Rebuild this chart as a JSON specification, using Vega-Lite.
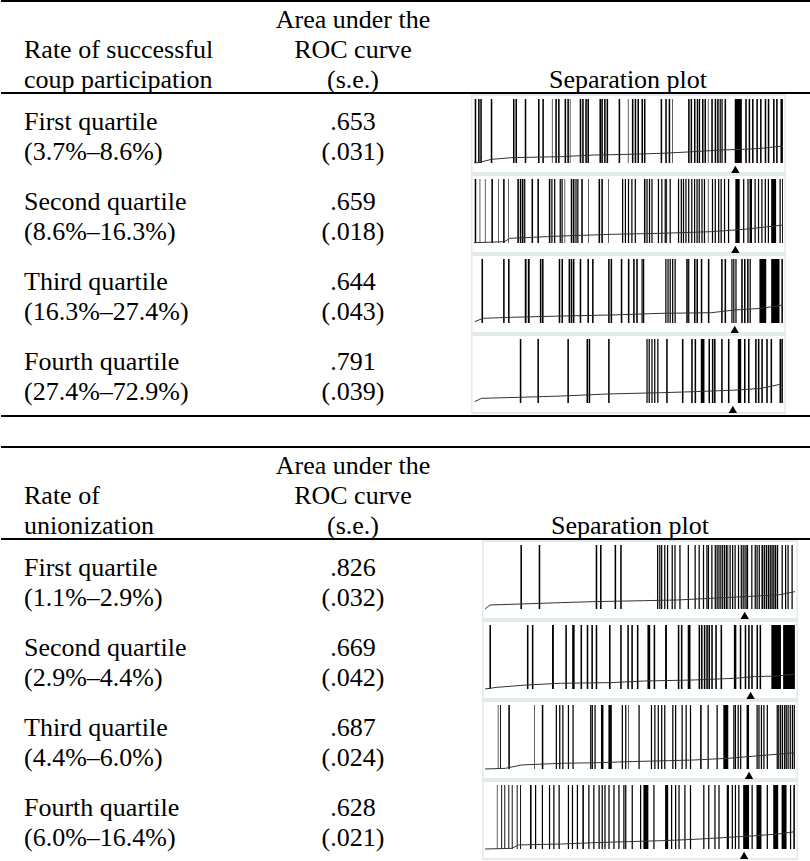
{
"$schema": "https://vega.github.io/schema/vega-lite/v6.json",
"background": "white",
"padding": 0,
"spacing": 0,
"config": {"view": {"stroke": null}, "font": "Liberation Serif", "text": {"font": "Liberation Serif", "fontSize": 26, "color": "black", "baseline": "middle"}},
"datasets": {
"txt": [
{"t":1,"r":0,"c":0,"l":1,"s":"Rate of successful"},
{"t":1,"r":0,"c":0,"l":2,"s":"coup participation"},
{"t":1,"r":0,"c":1,"l":0,"s":"Area under the"},
{"t":1,"r":0,"c":1,"l":1,"s":"ROC curve"},
{"t":1,"r":0,"c":1,"l":2,"s":"(s.e.)"},
{"t":1,"r":0,"c":2,"l":2,"s":"Separation plot"},
{"t":1,"r":1,"c":0,"l":0,"s":"First quartile"},
{"t":1,"r":1,"c":0,"l":1,"s":"(3.7%–8.6%)"},
{"t":1,"r":1,"c":1,"l":0,"s":".653"},
{"t":1,"r":1,"c":1,"l":1,"s":"(.031)"},
{"t":1,"r":2,"c":0,"l":0,"s":"Second quartile"},
{"t":1,"r":2,"c":0,"l":1,"s":"(8.6%–16.3%)"},
{"t":1,"r":2,"c":1,"l":0,"s":".659"},
{"t":1,"r":2,"c":1,"l":1,"s":"(.018)"},
{"t":1,"r":3,"c":0,"l":0,"s":"Third quartile"},
{"t":1,"r":3,"c":0,"l":1,"s":"(16.3%–27.4%)"},
{"t":1,"r":3,"c":1,"l":0,"s":".644"},
{"t":1,"r":3,"c":1,"l":1,"s":"(.043)"},
{"t":1,"r":4,"c":0,"l":0,"s":"Fourth quartile"},
{"t":1,"r":4,"c":0,"l":1,"s":"(27.4%–72.9%)"},
{"t":1,"r":4,"c":1,"l":0,"s":".791"},
{"t":1,"r":4,"c":1,"l":1,"s":"(.039)"},
{"t":2,"r":0,"c":0,"l":1,"s":"Rate of"},
{"t":2,"r":0,"c":0,"l":2,"s":"unionization"},
{"t":2,"r":0,"c":1,"l":0,"s":"Area under the"},
{"t":2,"r":0,"c":1,"l":1,"s":"ROC curve"},
{"t":2,"r":0,"c":1,"l":2,"s":"(s.e.)"},
{"t":2,"r":0,"c":2,"l":2,"s":"Separation plot"},
{"t":2,"r":1,"c":0,"l":0,"s":"First quartile"},
{"t":2,"r":1,"c":0,"l":1,"s":"(1.1%–2.9%)"},
{"t":2,"r":1,"c":1,"l":0,"s":".826"},
{"t":2,"r":1,"c":1,"l":1,"s":"(.032)"},
{"t":2,"r":2,"c":0,"l":0,"s":"Second quartile"},
{"t":2,"r":2,"c":0,"l":1,"s":"(2.9%–4.4%)"},
{"t":2,"r":2,"c":1,"l":0,"s":".669"},
{"t":2,"r":2,"c":1,"l":1,"s":"(.042)"},
{"t":2,"r":3,"c":0,"l":0,"s":"Third quartile"},
{"t":2,"r":3,"c":0,"l":1,"s":"(4.4%–6.0%)"},
{"t":2,"r":3,"c":1,"l":0,"s":".687"},
{"t":2,"r":3,"c":1,"l":1,"s":"(.024)"},
{"t":2,"r":4,"c":0,"l":0,"s":"Fourth quartile"},
{"t":2,"r":4,"c":0,"l":1,"s":"(6.0%–16.4%)"},
{"t":2,"r":4,"c":1,"l":0,"s":".628"},
{"t":2,"r":4,"c":1,"l":1,"s":"(.021)"}
],
"ev": [
{"p":"c1","a":2,"b":7},{"p":"c1","a":13,"b":18},{"p":"c1","a":20,"b":25},{"p":"c1","a":54,"b":59},{"p":"c1","a":126,"b":131},{"p":"c1","a":134,"b":139},{"p":"c1","a":164,"b":169},{"p":"c1","a":207,"b":212},{"p":"c1","a":221,"b":226},{"p":"c1","a":252,"b":254},{"p":"c1","a":263,"b":268},{"p":"c1","a":272,"b":277},{"p":"c1","a":293,"b":298},{"p":"c1","a":302,"b":307},{"p":"c1","a":310,"b":312},{"p":"c1","a":342,"b":347},{"p":"c1","a":350,"b":355},{"p":"c1","a":360,"b":365},{"p":"c1","a":367,"b":372},{"p":"c1","a":406,"b":411},{"p":"c1","a":412,"b":417},{"p":"c1","a":421,"b":426},{"p":"c1","a":429,"b":434},{"p":"c1","a":468,"b":473},{"p":"c1","a":498,"b":500},{"p":"c1","a":511,"b":516},{"p":"c1","a":520,"b":525},{"p":"c1","a":529,"b":534},{"p":"c1","a":542,"b":547},{"p":"c1","a":550,"b":555},{"p":"c1","a":604,"b":609},{"p":"c1","a":619,"b":624},{"p":"c1","a":630,"b":635},{"p":"c1","a":641,"b":643},{"p":"c1","a":693,"b":698},{"p":"c1","a":701,"b":706},{"p":"c1","a":712,"b":717},{"p":"c1","a":721,"b":726},{"p":"c1","a":728,"b":732},{"p":"c1","a":738,"b":743},{"p":"c1","a":746,"b":751},{"p":"c1","a":757,"b":759},{"p":"c1","a":768,"b":773},{"p":"c1","a":779,"b":784},{"p":"c1","a":787,"b":792},{"p":"c1","a":795,"b":799},{"p":"c1","a":801,"b":805},{"p":"c1","a":811,"b":816},{"p":"c1","a":844,"b":867},{"p":"c1","a":878,"b":883},{"p":"c1","a":889,"b":894},{"p":"c1","a":900,"b":905},{"p":"c1","a":914,"b":919},{"p":"c1","a":926,"b":931},{"p":"c1","a":941,"b":946},{"p":"c1","a":951,"b":956},{"p":"c1","a":968,"b":973},{"p":"c1","a":978,"b":983},{"p":"c1","a":992,"b":1000},
{"p":"c2","a":2,"b":7},{"p":"c2","a":18,"b":20},{"p":"c2","a":35,"b":37},{"p":"c2","a":56,"b":61},{"p":"c2","a":78,"b":80},{"p":"c2","a":94,"b":99},{"p":"c2","a":110,"b":112},{"p":"c2","a":140,"b":145},{"p":"c2","a":148,"b":153},{"p":"c2","a":155,"b":160},{"p":"c2","a":162,"b":166},{"p":"c2","a":186,"b":191},{"p":"c2","a":205,"b":210},{"p":"c2","a":242,"b":247},{"p":"c2","a":250,"b":254},{"p":"c2","a":259,"b":263},{"p":"c2","a":277,"b":281},{"p":"c2","a":283,"b":287},{"p":"c2","a":293,"b":295},{"p":"c2","a":313,"b":318},{"p":"c2","a":320,"b":325},{"p":"c2","a":328,"b":332},{"p":"c2","a":334,"b":338},{"p":"c2","a":347,"b":352},{"p":"c2","a":369,"b":371},{"p":"c2","a":403,"b":408},{"p":"c2","a":412,"b":417},{"p":"c2","a":434,"b":436},{"p":"c2","a":479,"b":483},{"p":"c2","a":488,"b":492},{"p":"c2","a":498,"b":502},{"p":"c2","a":509,"b":513},{"p":"c2","a":520,"b":524},{"p":"c2","a":550,"b":555},{"p":"c2","a":558,"b":562},{"p":"c2","a":566,"b":570},{"p":"c2","a":574,"b":578},{"p":"c2","a":595,"b":599},{"p":"c2","a":606,"b":610},{"p":"c2","a":617,"b":621},{"p":"c2","a":622,"b":625},{"p":"c2","a":633,"b":637},{"p":"c2","a":660,"b":664},{"p":"c2","a":669,"b":673},{"p":"c2","a":676,"b":680},{"p":"c2","a":684,"b":688},{"p":"c2","a":693,"b":697},{"p":"c2","a":703,"b":707},{"p":"c2","a":712,"b":716},{"p":"c2","a":720,"b":724},{"p":"c2","a":727,"b":731},{"p":"c2","a":736,"b":740},{"p":"c2","a":744,"b":748},{"p":"c2","a":757,"b":759},{"p":"c2","a":770,"b":774},{"p":"c2","a":779,"b":783},{"p":"c2","a":790,"b":794},{"p":"c2","a":798,"b":802},{"p":"c2","a":809,"b":813},{"p":"c2","a":822,"b":826},{"p":"c2","a":846,"b":860},{"p":"c2","a":871,"b":875},{"p":"c2","a":885,"b":889},{"p":"c2","a":892,"b":900},{"p":"c2","a":908,"b":912},{"p":"c2","a":919,"b":923},{"p":"c2","a":930,"b":934},{"p":"c2","a":941,"b":945},{"p":"c2","a":951,"b":955},{"p":"c2","a":962,"b":978},{"p":"c2","a":989,"b":993},{"p":"c2","a":997,"b":1000},
{"p":"c3","a":24,"b":29},{"p":"c3","a":94,"b":99},{"p":"c3","a":110,"b":115},{"p":"c3","a":164,"b":170},{"p":"c3","a":174,"b":180},{"p":"c3","a":213,"b":218},{"p":"c3","a":220,"b":225},{"p":"c3","a":274,"b":279},{"p":"c3","a":283,"b":288},{"p":"c3","a":306,"b":311},{"p":"c3","a":313,"b":318},{"p":"c3","a":320,"b":325},{"p":"c3","a":342,"b":347},{"p":"c3","a":367,"b":372},{"p":"c3","a":382,"b":387},{"p":"c3","a":434,"b":439},{"p":"c3","a":442,"b":447},{"p":"c3","a":475,"b":480},{"p":"c3","a":498,"b":503},{"p":"c3","a":515,"b":520},{"p":"c3","a":525,"b":530},{"p":"c3","a":542,"b":546},{"p":"c3","a":547,"b":551},{"p":"c3","a":619,"b":623},{"p":"c3","a":626,"b":630},{"p":"c3","a":633,"b":637},{"p":"c3","a":641,"b":645},{"p":"c3","a":649,"b":653},{"p":"c3","a":687,"b":692},{"p":"c3","a":693,"b":697},{"p":"c3","a":712,"b":717},{"p":"c3","a":720,"b":725},{"p":"c3","a":734,"b":739},{"p":"c3","a":757,"b":762},{"p":"c3","a":800,"b":805},{"p":"c3","a":811,"b":816},{"p":"c3","a":833,"b":837},{"p":"c3","a":839,"b":843},{"p":"c3","a":846,"b":850},{"p":"c3","a":865,"b":870},{"p":"c3","a":874,"b":879},{"p":"c3","a":884,"b":889},{"p":"c3","a":892,"b":896},{"p":"c3","a":924,"b":946},{"p":"c3","a":962,"b":989},{"p":"c3","a":995,"b":1000},
{"p":"c4","a":148,"b":153},{"p":"c4","a":205,"b":210},{"p":"c4","a":302,"b":307},{"p":"c4","a":364,"b":369},{"p":"c4","a":371,"b":376},{"p":"c4","a":434,"b":439},{"p":"c4","a":558,"b":562},{"p":"c4","a":565,"b":569},{"p":"c4","a":574,"b":578},{"p":"c4","a":583,"b":587},{"p":"c4","a":593,"b":597},{"p":"c4","a":622,"b":627},{"p":"c4","a":673,"b":678},{"p":"c4","a":703,"b":708},{"p":"c4","a":714,"b":719},{"p":"c4","a":734,"b":746},{"p":"c4","a":759,"b":764},{"p":"c4","a":770,"b":775},{"p":"c4","a":777,"b":782},{"p":"c4","a":800,"b":805},{"p":"c4","a":822,"b":827},{"p":"c4","a":854,"b":865},{"p":"c4","a":874,"b":879},{"p":"c4","a":887,"b":892},{"p":"c4","a":910,"b":915},{"p":"c4","a":919,"b":924},{"p":"c4","a":930,"b":935},{"p":"c4","a":946,"b":951},{"p":"c4","a":960,"b":965},{"p":"c4","a":989,"b":994},{"p":"c4","a":995,"b":1000},
{"p":"u1","a":114,"b":119},{"p":"u1","a":173,"b":178},{"p":"u1","a":357,"b":362},{"p":"u1","a":371,"b":376},{"p":"u1","a":418,"b":423},{"p":"u1","a":436,"b":441},{"p":"u1","a":555,"b":559},{"p":"u1","a":562,"b":566},{"p":"u1","a":568,"b":572},{"p":"u1","a":578,"b":582},{"p":"u1","a":587,"b":591},{"p":"u1","a":602,"b":606},{"p":"u1","a":611,"b":615},{"p":"u1","a":627,"b":631},{"p":"u1","a":654,"b":658},{"p":"u1","a":676,"b":680},{"p":"u1","a":689,"b":693},{"p":"u1","a":703,"b":707},{"p":"u1","a":714,"b":718},{"p":"u1","a":719,"b":723},{"p":"u1","a":730,"b":734},{"p":"u1","a":741,"b":745},{"p":"u1","a":747,"b":751},{"p":"u1","a":753,"b":757},{"p":"u1","a":759,"b":763},{"p":"u1","a":765,"b":769},{"p":"u1","a":771,"b":775},{"p":"u1","a":777,"b":781},{"p":"u1","a":782,"b":785},{"p":"u1","a":789,"b":793},{"p":"u1","a":797,"b":801},{"p":"u1","a":805,"b":809},{"p":"u1","a":816,"b":820},{"p":"u1","a":825,"b":829},{"p":"u1","a":831,"b":835},{"p":"u1","a":837,"b":841},{"p":"u1","a":843,"b":849},{"p":"u1","a":859,"b":863},{"p":"u1","a":870,"b":874},{"p":"u1","a":876,"b":880},{"p":"u1","a":883,"b":887},{"p":"u1","a":892,"b":897},{"p":"u1","a":899,"b":904},{"p":"u1","a":906,"b":911},{"p":"u1","a":913,"b":918},{"p":"u1","a":920,"b":925},{"p":"u1","a":927,"b":932},{"p":"u1","a":934,"b":939},{"p":"u1","a":941,"b":946},{"p":"u1","a":957,"b":961},{"p":"u1","a":968,"b":972},{"p":"u1","a":976,"b":980},{"p":"u1","a":989,"b":993},
{"p":"u2","a":14,"b":19},{"p":"u2","a":135,"b":140},{"p":"u2","a":151,"b":156},{"p":"u2","a":216,"b":222},{"p":"u2","a":259,"b":264},{"p":"u2","a":281,"b":289},{"p":"u2","a":308,"b":313},{"p":"u2","a":328,"b":333},{"p":"u2","a":343,"b":348},{"p":"u2","a":357,"b":362},{"p":"u2","a":400,"b":405},{"p":"u2","a":436,"b":441},{"p":"u2","a":459,"b":464},{"p":"u2","a":472,"b":477},{"p":"u2","a":490,"b":495},{"p":"u2","a":524,"b":533},{"p":"u2","a":544,"b":549},{"p":"u2","a":581,"b":587},{"p":"u2","a":622,"b":627},{"p":"u2","a":632,"b":637},{"p":"u2","a":654,"b":663},{"p":"u2","a":689,"b":694},{"p":"u2","a":697,"b":702},{"p":"u2","a":706,"b":711},{"p":"u2","a":714,"b":719},{"p":"u2","a":721,"b":726},{"p":"u2","a":730,"b":735},{"p":"u2","a":743,"b":748},{"p":"u2","a":760,"b":765},{"p":"u2","a":803,"b":811},{"p":"u2","a":822,"b":827},{"p":"u2","a":838,"b":843},{"p":"u2","a":849,"b":854},{"p":"u2","a":859,"b":864},{"p":"u2","a":876,"b":881},{"p":"u2","a":886,"b":891},{"p":"u2","a":924,"b":955},{"p":"u2","a":962,"b":1000},
{"p":"u3","a":41,"b":43},{"p":"u3","a":48,"b":51},{"p":"u3","a":75,"b":80},{"p":"u3","a":159,"b":161},{"p":"u3","a":183,"b":188},{"p":"u3","a":228,"b":232},{"p":"u3","a":239,"b":243},{"p":"u3","a":249,"b":253},{"p":"u3","a":267,"b":271},{"p":"u3","a":282,"b":286},{"p":"u3","a":339,"b":343},{"p":"u3","a":344,"b":348},{"p":"u3","a":353,"b":357},{"p":"u3","a":374,"b":382},{"p":"u3","a":398,"b":409},{"p":"u3","a":441,"b":445},{"p":"u3","a":452,"b":456},{"p":"u3","a":462,"b":464},{"p":"u3","a":495,"b":499},{"p":"u3","a":535,"b":539},{"p":"u3","a":546,"b":550},{"p":"u3","a":557,"b":561},{"p":"u3","a":568,"b":572},{"p":"u3","a":578,"b":582},{"p":"u3","a":604,"b":608},{"p":"u3","a":613,"b":617},{"p":"u3","a":634,"b":638},{"p":"u3","a":647,"b":651},{"p":"u3","a":661,"b":665},{"p":"u3","a":694,"b":699},{"p":"u3","a":718,"b":722},{"p":"u3","a":747,"b":751},{"p":"u3","a":769,"b":785},{"p":"u3","a":801,"b":805},{"p":"u3","a":806,"b":810},{"p":"u3","a":815,"b":819},{"p":"u3","a":823,"b":827},{"p":"u3","a":844,"b":852},{"p":"u3","a":876,"b":880},{"p":"u3","a":882,"b":886},{"p":"u3","a":890,"b":894},{"p":"u3","a":898,"b":902},{"p":"u3","a":909,"b":913},{"p":"u3","a":941,"b":945},{"p":"u3","a":946,"b":950},{"p":"u3","a":952,"b":956},{"p":"u3","a":958,"b":962},{"p":"u3","a":965,"b":969},{"p":"u3","a":970,"b":974},{"p":"u3","a":976,"b":980},{"p":"u3","a":983,"b":987},{"p":"u3","a":990,"b":994},{"p":"u3","a":996,"b":1000},
{"p":"u4","a":38,"b":40},{"p":"u4","a":52,"b":55},{"p":"u4","a":62,"b":65},{"p":"u4","a":75,"b":78},{"p":"u4","a":86,"b":89},{"p":"u4","a":102,"b":105},{"p":"u4","a":113,"b":116},{"p":"u4","a":145,"b":150},{"p":"u4","a":161,"b":165},{"p":"u4","a":183,"b":187},{"p":"u4","a":206,"b":210},{"p":"u4","a":220,"b":224},{"p":"u4","a":237,"b":241},{"p":"u4","a":267,"b":271},{"p":"u4","a":280,"b":284},{"p":"u4","a":296,"b":300},{"p":"u4","a":314,"b":319},{"p":"u4","a":333,"b":337},{"p":"u4","a":349,"b":353},{"p":"u4","a":366,"b":370},{"p":"u4","a":376,"b":380},{"p":"u4","a":385,"b":389},{"p":"u4","a":398,"b":402},{"p":"u4","a":414,"b":418},{"p":"u4","a":430,"b":434},{"p":"u4","a":446,"b":450},{"p":"u4","a":452,"b":456},{"p":"u4","a":473,"b":477},{"p":"u4","a":500,"b":504},{"p":"u4","a":511,"b":527},{"p":"u4","a":543,"b":547},{"p":"u4","a":581,"b":591},{"p":"u4","a":600,"b":604},{"p":"u4","a":613,"b":617},{"p":"u4","a":624,"b":628},{"p":"u4","a":643,"b":647},{"p":"u4","a":661,"b":665},{"p":"u4","a":704,"b":708},{"p":"u4","a":720,"b":724},{"p":"u4","a":740,"b":744},{"p":"u4","a":753,"b":757},{"p":"u4","a":780,"b":787},{"p":"u4","a":796,"b":800},{"p":"u4","a":806,"b":810},{"p":"u4","a":817,"b":821},{"p":"u4","a":833,"b":852},{"p":"u4","a":860,"b":864},{"p":"u4","a":876,"b":892},{"p":"u4","a":909,"b":913},{"p":"u4","a":930,"b":946},{"p":"u4","a":957,"b":973},{"p":"u4","a":984,"b":988},{"p":"u4","a":995,"b":1000}
],
"ln": [
{"p":"c1","x":0,"y":0.005},{"p":"c1","x":13,"y":0.005},{"p":"c1","x":56,"y":0.057},{"p":"c1","x":121,"y":0.083},{"p":"c1","x":283,"y":0.099},{"p":"c1","x":391,"y":0.125},{"p":"c1","x":498,"y":0.135},{"p":"c1","x":606,"y":0.151},{"p":"c1","x":714,"y":0.177},{"p":"c1","x":800,"y":0.203},{"p":"c1","x":876,"y":0.214},{"p":"c1","x":930,"y":0.229},{"p":"c1","x":1000,"y":0.266},
{"p":"c2","x":0,"y":0.005},{"p":"c2","x":99,"y":0.02},{"p":"c2","x":115,"y":0.073},{"p":"c2","x":283,"y":0.109},{"p":"c2","x":444,"y":0.135},{"p":"c2","x":606,"y":0.151},{"p":"c2","x":768,"y":0.177},{"p":"c2","x":876,"y":0.214},{"p":"c2","x":1000,"y":0.281},
{"p":"c3","x":2,"y":0.021},{"p":"c3","x":29,"y":0.073},{"p":"c3","x":121,"y":0.089},{"p":"c3","x":283,"y":0.109},{"p":"c3","x":444,"y":0.125},{"p":"c3","x":606,"y":0.151},{"p":"c3","x":768,"y":0.161},{"p":"c3","x":844,"y":0.203},{"p":"c3","x":930,"y":0.229},{"p":"c3","x":1000,"y":0.281},
{"p":"c4","x":2,"y":0.021},{"p":"c4","x":24,"y":0.073},{"p":"c4","x":148,"y":0.089},{"p":"c4","x":283,"y":0.109},{"p":"c4","x":434,"y":0.141},{"p":"c4","x":606,"y":0.161},{"p":"c4","x":714,"y":0.177},{"p":"c4","x":854,"y":0.203},{"p":"c4","x":930,"y":0.229},{"p":"c4","x":997,"y":0.297},
{"p":"u1","x":0,"y":0.0},{"p":"u1","x":16,"y":0.0625},{"p":"u1","x":114,"y":0.078},{"p":"u1","x":243,"y":0.099},{"p":"u1","x":351,"y":0.115},{"p":"u1","x":514,"y":0.13},{"p":"u1","x":622,"y":0.141},{"p":"u1","x":730,"y":0.167},{"p":"u1","x":838,"y":0.193},{"p":"u1","x":946,"y":0.219},{"p":"u1","x":1000,"y":0.271},
{"p":"u2","x":0,"y":0.0},{"p":"u2","x":38,"y":0.026},{"p":"u2","x":135,"y":0.0625},{"p":"u2","x":243,"y":0.089},{"p":"u2","x":405,"y":0.099},{"p":"u2","x":514,"y":0.125},{"p":"u2","x":676,"y":0.141},{"p":"u2","x":805,"y":0.167},{"p":"u2","x":870,"y":0.193},{"p":"u2","x":946,"y":0.203},{"p":"u2","x":1000,"y":0.234},
{"p":"u3","x":0,"y":0.0},{"p":"u3","x":65,"y":0.01},{"p":"u3","x":118,"y":0.063},{"p":"u3","x":247,"y":0.089},{"p":"u3","x":376,"y":0.099},{"p":"u3","x":462,"y":0.115},{"p":"u3","x":591,"y":0.13},{"p":"u3","x":677,"y":0.141},{"p":"u3","x":785,"y":0.167},{"p":"u3","x":849,"y":0.193},{"p":"u3","x":914,"y":0.219},{"p":"u3","x":1000,"y":0.255},
{"p":"u4","x":0,"y":0.0},{"p":"u4","x":86,"y":0.01},{"p":"u4","x":108,"y":0.063},{"p":"u4","x":247,"y":0.078},{"p":"u4","x":355,"y":0.099},{"p":"u4","x":462,"y":0.115},{"p":"u4","x":570,"y":0.13},{"p":"u4","x":677,"y":0.151},{"p":"u4","x":785,"y":0.182},{"p":"u4","x":860,"y":0.203},{"p":"u4","x":946,"y":0.234},{"p":"u4","x":1000,"y":0.271}
],
"ex": [
{"p":"c1","e":846},{"p":"c2","e":846},{"p":"c3","e":844},{"p":"c4","e":838},
{"p":"u1","e":838},{"p":"u2","e":857},{"p":"u3","e":852},{"p":"u4","e":836}
]
},
"vconcat": [
{"width": 810, "height": 94, "layer": [
 {"data": {"name": "txt"}, "transform": [{"filter": "datum.t==1 && datum.r==0 && datum.c==0"}], "mark": {"type": "text", "align": "left"}, "encoding": {"x": {"field": "c", "type": "quantitative", "scale": {"domain": [0,1,2], "range": [23,352,627], "nice": false}, "axis": null}, "y": {"field": "l", "type": "quantitative", "scale": {"domain": [-0.6667, 2.4667], "reverse": true, "nice": false}, "axis": null}, "text": {"field": "s"}}},
 {"data": {"name": "txt"}, "transform": [{"filter": "datum.t==1 && datum.r==0 && datum.c>0"}], "mark": {"type": "text", "align": "center"}, "encoding": {"x": {"field": "c", "type": "quantitative"}, "y": {"field": "l", "type": "quantitative"}, "text": {"field": "s"}}},
 {"data": {"values": [{}]}, "mark": {"type": "rule", "color": "black", "strokeWidth": 2}, "encoding": {"y": {"datum": -0.6333, "type": "quantitative"}}},
 {"data": {"values": [{}]}, "mark": {"type": "rule", "color": "black", "strokeWidth": 2}, "encoding": {"y": {"datum": 2.4333, "type": "quantitative"}}}
]},
{"hconcat": [
 {"width": 470, "height": 80, "data": {"name": "txt"}, "transform": [{"filter": "datum.t==1 && datum.r==1"}], "encoding": {"x": {"field": "c", "type": "quantitative", "scale": {"domain": [0,1], "range": [23,352], "nice": false}, "axis": null}, "y": {"field": "l", "type": "quantitative", "scale": {"domain": [-0.9333, 1.7333], "reverse": true, "nice": false}, "axis": null}, "text": {"field": "s"}}, "layer": [{"transform": [{"filter": "datum.c==0"}], "mark": {"type": "text", "align": "left"}}, {"transform": [{"filter": "datum.c==1"}], "mark": {"type": "text", "align": "center"}}]},
 {"width": 315, "height": 80, "layer": [
  {"data": {"values": [{}]}, "mark": {"type": "rect", "fill": "#e2eaed"}, "encoding": {"x": {"datum": -10, "type": "quantitative", "scale": {"domain": [-10, 1010], "nice": false}, "axis": null}, "x2": {"datum": 1010}, "y": {"datum": -0.172, "type": "quantitative", "scale": {"domain": [-0.172, 1.078], "nice": false}, "axis": null}, "y2": {"datum": 1.078}}},
  {"data": {"values": [{}]}, "mark": {"type": "rect", "fill": "white"}, "encoding": {"x": {"datum": -5, "type": "quantitative"}, "x2": {"datum": 1005}, "y": {"datum": -0.1406, "type": "quantitative"}, "y2": {"datum": 1.047}}},
  {"data": {"name": "ev"}, "transform": [{"filter": "datum.p=='c1'"}], "mark": {"type": "rect", "color": "black"}, "encoding": {"x": {"field": "a", "type": "quantitative"}, "x2": {"field": "b"}, "y": {"datum": 0, "type": "quantitative"}, "y2": {"datum": 1}}},
  {"data": {"name": "ln"}, "transform": [{"filter": "datum.p=='c1'"}], "mark": {"type": "line", "color": "#333333", "strokeWidth": 1}, "encoding": {"x": {"field": "x", "type": "quantitative"}, "y": {"field": "y", "type": "quantitative"}}},
  {"data": {"name": "ex"}, "transform": [{"filter": "datum.p=='c1'"}], "mark": {"type": "point", "shape": "triangle-up", "filled": true, "color": "black", "size": 70, "opacity": 1}, "encoding": {"x": {"field": "e", "type": "quantitative"}, "y": {"datum": -0.1, "type": "quantitative"}}}
 ]}
], "spacing": 0},
{"hconcat": [
 {"width": 470, "height": 80, "data": {"name": "txt"}, "transform": [{"filter": "datum.t==1 && datum.r==2"}], "encoding": {"x": {"field": "c", "type": "quantitative", "scale": {"domain": [0,1], "range": [23,352], "nice": false}, "axis": null}, "y": {"field": "l", "type": "quantitative", "scale": {"domain": [-0.9333, 1.7333], "reverse": true, "nice": false}, "axis": null}, "text": {"field": "s"}}, "layer": [{"transform": [{"filter": "datum.c==0"}], "mark": {"type": "text", "align": "left"}}, {"transform": [{"filter": "datum.c==1"}], "mark": {"type": "text", "align": "center"}}]},
 {"width": 315, "height": 80, "layer": [
  {"data": {"values": [{}]}, "mark": {"type": "rect", "fill": "#e2eaed"}, "encoding": {"x": {"datum": -10, "type": "quantitative", "scale": {"domain": [-10, 1010], "nice": false}, "axis": null}, "x2": {"datum": 1010}, "y": {"datum": -0.172, "type": "quantitative", "scale": {"domain": [-0.172, 1.078], "nice": false}, "axis": null}, "y2": {"datum": 1.078}}},
  {"data": {"values": [{}]}, "mark": {"type": "rect", "fill": "white"}, "encoding": {"x": {"datum": -5, "type": "quantitative"}, "x2": {"datum": 1005}, "y": {"datum": -0.1406, "type": "quantitative"}, "y2": {"datum": 1.047}}},
  {"data": {"name": "ev"}, "transform": [{"filter": "datum.p=='c2'"}], "mark": {"type": "rect", "color": "black"}, "encoding": {"x": {"field": "a", "type": "quantitative"}, "x2": {"field": "b"}, "y": {"datum": 0, "type": "quantitative"}, "y2": {"datum": 1}}},
  {"data": {"name": "ln"}, "transform": [{"filter": "datum.p=='c2'"}], "mark": {"type": "line", "color": "#333333", "strokeWidth": 1}, "encoding": {"x": {"field": "x", "type": "quantitative"}, "y": {"field": "y", "type": "quantitative"}}},
  {"data": {"name": "ex"}, "transform": [{"filter": "datum.p=='c2'"}], "mark": {"type": "point", "shape": "triangle-up", "filled": true, "color": "black", "size": 70, "opacity": 1}, "encoding": {"x": {"field": "e", "type": "quantitative"}, "y": {"datum": -0.1, "type": "quantitative"}}}
 ]}
], "spacing": 0},
{"hconcat": [
 {"width": 470, "height": 80, "data": {"name": "txt"}, "transform": [{"filter": "datum.t==1 && datum.r==3"}], "encoding": {"x": {"field": "c", "type": "quantitative", "scale": {"domain": [0,1], "range": [23,352], "nice": false}, "axis": null}, "y": {"field": "l", "type": "quantitative", "scale": {"domain": [-0.9333, 1.7333], "reverse": true, "nice": false}, "axis": null}, "text": {"field": "s"}}, "layer": [{"transform": [{"filter": "datum.c==0"}], "mark": {"type": "text", "align": "left"}}, {"transform": [{"filter": "datum.c==1"}], "mark": {"type": "text", "align": "center"}}]},
 {"width": 315, "height": 80, "layer": [
  {"data": {"values": [{}]}, "mark": {"type": "rect", "fill": "#e2eaed"}, "encoding": {"x": {"datum": -10, "type": "quantitative", "scale": {"domain": [-10, 1010], "nice": false}, "axis": null}, "x2": {"datum": 1010}, "y": {"datum": -0.172, "type": "quantitative", "scale": {"domain": [-0.172, 1.078], "nice": false}, "axis": null}, "y2": {"datum": 1.078}}},
  {"data": {"values": [{}]}, "mark": {"type": "rect", "fill": "white"}, "encoding": {"x": {"datum": -5, "type": "quantitative"}, "x2": {"datum": 1005}, "y": {"datum": -0.1406, "type": "quantitative"}, "y2": {"datum": 1.047}}},
  {"data": {"name": "ev"}, "transform": [{"filter": "datum.p=='c3'"}], "mark": {"type": "rect", "color": "black"}, "encoding": {"x": {"field": "a", "type": "quantitative"}, "x2": {"field": "b"}, "y": {"datum": 0, "type": "quantitative"}, "y2": {"datum": 1}}},
  {"data": {"name": "ln"}, "transform": [{"filter": "datum.p=='c3'"}], "mark": {"type": "line", "color": "#333333", "strokeWidth": 1}, "encoding": {"x": {"field": "x", "type": "quantitative"}, "y": {"field": "y", "type": "quantitative"}}},
  {"data": {"name": "ex"}, "transform": [{"filter": "datum.p=='c3'"}], "mark": {"type": "point", "shape": "triangle-up", "filled": true, "color": "black", "size": 70, "opacity": 1}, "encoding": {"x": {"field": "e", "type": "quantitative"}, "y": {"datum": -0.1, "type": "quantitative"}}}
 ]}
], "spacing": 0},
{"hconcat": [
 {"width": 470, "height": 80, "data": {"name": "txt"}, "transform": [{"filter": "datum.t==1 && datum.r==4"}], "encoding": {"x": {"field": "c", "type": "quantitative", "scale": {"domain": [0,1], "range": [23,352], "nice": false}, "axis": null}, "y": {"field": "l", "type": "quantitative", "scale": {"domain": [-0.9333, 1.7333], "reverse": true, "nice": false}, "axis": null}, "text": {"field": "s"}}, "layer": [{"transform": [{"filter": "datum.c==0"}], "mark": {"type": "text", "align": "left"}}, {"transform": [{"filter": "datum.c==1"}], "mark": {"type": "text", "align": "center"}}]},
 {"width": 315, "height": 80, "layer": [
  {"data": {"values": [{}]}, "mark": {"type": "rect", "fill": "#e2eaed"}, "encoding": {"x": {"datum": -10, "type": "quantitative", "scale": {"domain": [-10, 1010], "nice": false}, "axis": null}, "x2": {"datum": 1010}, "y": {"datum": -0.172, "type": "quantitative", "scale": {"domain": [-0.172, 1.078], "nice": false}, "axis": null}, "y2": {"datum": 1.078}}},
  {"data": {"values": [{}]}, "mark": {"type": "rect", "fill": "white"}, "encoding": {"x": {"datum": -5, "type": "quantitative"}, "x2": {"datum": 1005}, "y": {"datum": -0.1406, "type": "quantitative"}, "y2": {"datum": 1.047}}},
  {"data": {"name": "ev"}, "transform": [{"filter": "datum.p=='c4'"}], "mark": {"type": "rect", "color": "black"}, "encoding": {"x": {"field": "a", "type": "quantitative"}, "x2": {"field": "b"}, "y": {"datum": 0, "type": "quantitative"}, "y2": {"datum": 1}}},
  {"data": {"name": "ln"}, "transform": [{"filter": "datum.p=='c4'"}], "mark": {"type": "line", "color": "#333333", "strokeWidth": 1}, "encoding": {"x": {"field": "x", "type": "quantitative"}, "y": {"field": "y", "type": "quantitative"}}},
  {"data": {"name": "ex"}, "transform": [{"filter": "datum.p=='c4'"}], "mark": {"type": "point", "shape": "triangle-up", "filled": true, "color": "black", "size": 70, "opacity": 1}, "encoding": {"x": {"field": "e", "type": "quantitative"}, "y": {"datum": -0.1, "type": "quantitative"}}}
 ]}
], "spacing": 0},
{"width": 810, "height": 126, "layer": [
 {"data": {"name": "txt"}, "transform": [{"filter": "datum.t==2 && datum.r==0 && datum.c==0"}], "mark": {"type": "text", "align": "left"}, "encoding": {"x": {"field": "c", "type": "quantitative", "scale": {"domain": [0,1,2], "range": [23,352,629], "nice": false}, "axis": null}, "y": {"field": "l", "type": "quantitative", "scale": {"domain": [-1.7333, 2.4667], "reverse": true, "nice": false}, "axis": null}, "text": {"field": "s"}}},
 {"data": {"name": "txt"}, "transform": [{"filter": "datum.t==2 && datum.r==0 && datum.c>0"}], "mark": {"type": "text", "align": "center"}, "encoding": {"x": {"field": "c", "type": "quantitative"}, "y": {"field": "l", "type": "quantitative"}, "text": {"field": "s"}}},
 {"data": {"values": [{}]}, "mark": {"type": "rule", "color": "black", "strokeWidth": 2}, "encoding": {"y": {"datum": -1.6667, "type": "quantitative"}}},
 {"data": {"values": [{}]}, "mark": {"type": "rule", "color": "black", "strokeWidth": 2}, "encoding": {"y": {"datum": -0.6333, "type": "quantitative"}}},
 {"data": {"values": [{}]}, "mark": {"type": "rule", "color": "black", "strokeWidth": 2}, "encoding": {"y": {"datum": 2.4333, "type": "quantitative"}}}
]},
{"hconcat": [
 {"width": 481, "height": 80, "data": {"name": "txt"}, "transform": [{"filter": "datum.t==2 && datum.r==1"}], "encoding": {"x": {"field": "c", "type": "quantitative", "scale": {"domain": [0,1], "range": [23,352], "nice": false}, "axis": null}, "y": {"field": "l", "type": "quantitative", "scale": {"domain": [-0.9333, 1.7333], "reverse": true, "nice": false}, "axis": null}, "text": {"field": "s"}}, "layer": [{"transform": [{"filter": "datum.c==0"}], "mark": {"type": "text", "align": "left"}}, {"transform": [{"filter": "datum.c==1"}], "mark": {"type": "text", "align": "center"}}]},
 {"width": 316, "height": 80, "layer": [
  {"data": {"values": [{}]}, "mark": {"type": "rect", "fill": "#e2eaed"}, "encoding": {"x": {"datum": -10, "type": "quantitative", "scale": {"domain": [-10, 1010], "nice": false}, "axis": null}, "x2": {"datum": 1010}, "y": {"datum": -0.172, "type": "quantitative", "scale": {"domain": [-0.172, 1.078], "nice": false}, "axis": null}, "y2": {"datum": 1.078}}},
  {"data": {"values": [{}]}, "mark": {"type": "rect", "fill": "white"}, "encoding": {"x": {"datum": -5, "type": "quantitative"}, "x2": {"datum": 1005}, "y": {"datum": -0.1406, "type": "quantitative"}, "y2": {"datum": 1.047}}},
  {"data": {"name": "ev"}, "transform": [{"filter": "datum.p=='u1'"}], "mark": {"type": "rect", "color": "black"}, "encoding": {"x": {"field": "a", "type": "quantitative"}, "x2": {"field": "b"}, "y": {"datum": 0, "type": "quantitative"}, "y2": {"datum": 1}}},
  {"data": {"name": "ln"}, "transform": [{"filter": "datum.p=='u1'"}], "mark": {"type": "line", "color": "#333333", "strokeWidth": 1}, "encoding": {"x": {"field": "x", "type": "quantitative"}, "y": {"field": "y", "type": "quantitative"}}},
  {"data": {"name": "ex"}, "transform": [{"filter": "datum.p=='u1'"}], "mark": {"type": "point", "shape": "triangle-up", "filled": true, "color": "black", "size": 70, "opacity": 1}, "encoding": {"x": {"field": "e", "type": "quantitative"}, "y": {"datum": -0.1, "type": "quantitative"}}}
 ]}
], "spacing": 0},
{"hconcat": [
 {"width": 481, "height": 80, "data": {"name": "txt"}, "transform": [{"filter": "datum.t==2 && datum.r==2"}], "encoding": {"x": {"field": "c", "type": "quantitative", "scale": {"domain": [0,1], "range": [23,352], "nice": false}, "axis": null}, "y": {"field": "l", "type": "quantitative", "scale": {"domain": [-0.9333, 1.7333], "reverse": true, "nice": false}, "axis": null}, "text": {"field": "s"}}, "layer": [{"transform": [{"filter": "datum.c==0"}], "mark": {"type": "text", "align": "left"}}, {"transform": [{"filter": "datum.c==1"}], "mark": {"type": "text", "align": "center"}}]},
 {"width": 316, "height": 80, "layer": [
  {"data": {"values": [{}]}, "mark": {"type": "rect", "fill": "#e2eaed"}, "encoding": {"x": {"datum": -10, "type": "quantitative", "scale": {"domain": [-10, 1010], "nice": false}, "axis": null}, "x2": {"datum": 1010}, "y": {"datum": -0.172, "type": "quantitative", "scale": {"domain": [-0.172, 1.078], "nice": false}, "axis": null}, "y2": {"datum": 1.078}}},
  {"data": {"values": [{}]}, "mark": {"type": "rect", "fill": "white"}, "encoding": {"x": {"datum": -5, "type": "quantitative"}, "x2": {"datum": 1005}, "y": {"datum": -0.1406, "type": "quantitative"}, "y2": {"datum": 1.047}}},
  {"data": {"name": "ev"}, "transform": [{"filter": "datum.p=='u2'"}], "mark": {"type": "rect", "color": "black"}, "encoding": {"x": {"field": "a", "type": "quantitative"}, "x2": {"field": "b"}, "y": {"datum": 0, "type": "quantitative"}, "y2": {"datum": 1}}},
  {"data": {"name": "ln"}, "transform": [{"filter": "datum.p=='u2'"}], "mark": {"type": "line", "color": "#333333", "strokeWidth": 1}, "encoding": {"x": {"field": "x", "type": "quantitative"}, "y": {"field": "y", "type": "quantitative"}}},
  {"data": {"name": "ex"}, "transform": [{"filter": "datum.p=='u2'"}], "mark": {"type": "point", "shape": "triangle-up", "filled": true, "color": "black", "size": 70, "opacity": 1}, "encoding": {"x": {"field": "e", "type": "quantitative"}, "y": {"datum": -0.1, "type": "quantitative"}}}
 ]}
], "spacing": 0},
{"hconcat": [
 {"width": 481, "height": 80, "data": {"name": "txt"}, "transform": [{"filter": "datum.t==2 && datum.r==3"}], "encoding": {"x": {"field": "c", "type": "quantitative", "scale": {"domain": [0,1], "range": [23,352], "nice": false}, "axis": null}, "y": {"field": "l", "type": "quantitative", "scale": {"domain": [-0.9333, 1.7333], "reverse": true, "nice": false}, "axis": null}, "text": {"field": "s"}}, "layer": [{"transform": [{"filter": "datum.c==0"}], "mark": {"type": "text", "align": "left"}}, {"transform": [{"filter": "datum.c==1"}], "mark": {"type": "text", "align": "center"}}]},
 {"width": 316, "height": 80, "layer": [
  {"data": {"values": [{}]}, "mark": {"type": "rect", "fill": "#e2eaed"}, "encoding": {"x": {"datum": -10, "type": "quantitative", "scale": {"domain": [-10, 1010], "nice": false}, "axis": null}, "x2": {"datum": 1010}, "y": {"datum": -0.172, "type": "quantitative", "scale": {"domain": [-0.172, 1.078], "nice": false}, "axis": null}, "y2": {"datum": 1.078}}},
  {"data": {"values": [{}]}, "mark": {"type": "rect", "fill": "white"}, "encoding": {"x": {"datum": -5, "type": "quantitative"}, "x2": {"datum": 1005}, "y": {"datum": -0.1406, "type": "quantitative"}, "y2": {"datum": 1.047}}},
  {"data": {"name": "ev"}, "transform": [{"filter": "datum.p=='u3'"}], "mark": {"type": "rect", "color": "black"}, "encoding": {"x": {"field": "a", "type": "quantitative"}, "x2": {"field": "b"}, "y": {"datum": 0, "type": "quantitative"}, "y2": {"datum": 1}}},
  {"data": {"name": "ln"}, "transform": [{"filter": "datum.p=='u3'"}], "mark": {"type": "line", "color": "#333333", "strokeWidth": 1}, "encoding": {"x": {"field": "x", "type": "quantitative"}, "y": {"field": "y", "type": "quantitative"}}},
  {"data": {"name": "ex"}, "transform": [{"filter": "datum.p=='u3'"}], "mark": {"type": "point", "shape": "triangle-up", "filled": true, "color": "black", "size": 70, "opacity": 1}, "encoding": {"x": {"field": "e", "type": "quantitative"}, "y": {"datum": -0.1, "type": "quantitative"}}}
 ]}
], "spacing": 0},
{"hconcat": [
 {"width": 481, "height": 80, "data": {"name": "txt"}, "transform": [{"filter": "datum.t==2 && datum.r==4"}], "encoding": {"x": {"field": "c", "type": "quantitative", "scale": {"domain": [0,1], "range": [23,352], "nice": false}, "axis": null}, "y": {"field": "l", "type": "quantitative", "scale": {"domain": [-0.9333, 1.7333], "reverse": true, "nice": false}, "axis": null}, "text": {"field": "s"}}, "layer": [{"transform": [{"filter": "datum.c==0"}], "mark": {"type": "text", "align": "left"}}, {"transform": [{"filter": "datum.c==1"}], "mark": {"type": "text", "align": "center"}}]},
 {"width": 316, "height": 80, "layer": [
  {"data": {"values": [{}]}, "mark": {"type": "rect", "fill": "#e2eaed"}, "encoding": {"x": {"datum": -10, "type": "quantitative", "scale": {"domain": [-10, 1010], "nice": false}, "axis": null}, "x2": {"datum": 1010}, "y": {"datum": -0.172, "type": "quantitative", "scale": {"domain": [-0.172, 1.078], "nice": false}, "axis": null}, "y2": {"datum": 1.078}}},
  {"data": {"values": [{}]}, "mark": {"type": "rect", "fill": "white"}, "encoding": {"x": {"datum": -5, "type": "quantitative"}, "x2": {"datum": 1005}, "y": {"datum": -0.1406, "type": "quantitative"}, "y2": {"datum": 1.047}}},
  {"data": {"name": "ev"}, "transform": [{"filter": "datum.p=='u4'"}], "mark": {"type": "rect", "color": "black"}, "encoding": {"x": {"field": "a", "type": "quantitative"}, "x2": {"field": "b"}, "y": {"datum": 0, "type": "quantitative"}, "y2": {"datum": 1}}},
  {"data": {"name": "ln"}, "transform": [{"filter": "datum.p=='u4'"}], "mark": {"type": "line", "color": "#333333", "strokeWidth": 1}, "encoding": {"x": {"field": "x", "type": "quantitative"}, "y": {"field": "y", "type": "quantitative"}}},
  {"data": {"name": "ex"}, "transform": [{"filter": "datum.p=='u4'"}], "mark": {"type": "point", "shape": "triangle-up", "filled": true, "color": "black", "size": 70, "opacity": 1}, "encoding": {"x": {"field": "e", "type": "quantitative"}, "y": {"datum": -0.1, "type": "quantitative"}}}
 ]}
], "spacing": 0}
]
}
